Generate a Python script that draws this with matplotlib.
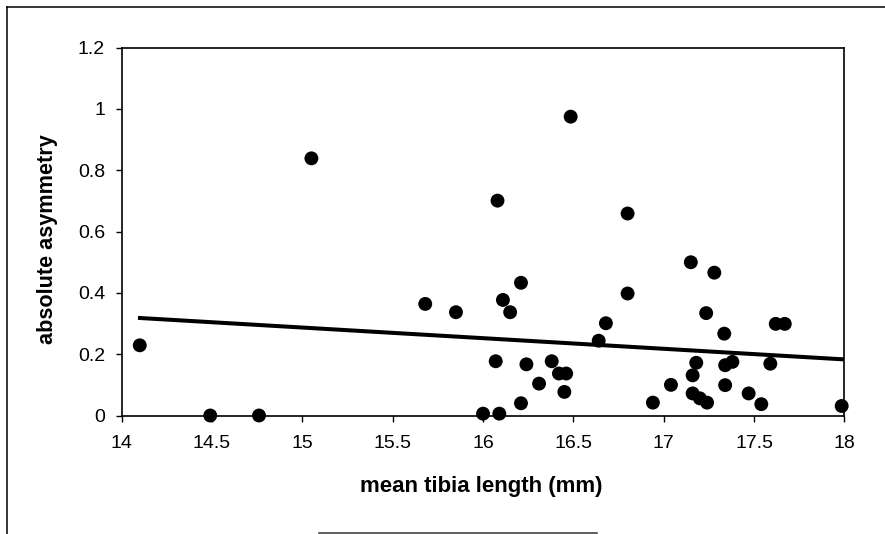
import matplotlib
matplotlib.use("Agg")
import matplotlib.pyplot as plt
from matplotlib.lines import Line2D

plt.rcParams['font.family'] = ['Liberation Sans', 'DejaVu Sans']

# mean tibia length (mm) and absolute asymmetry for each individual
tibia_length = [
    14.10, 14.49, 14.76, 15.05, 15.68, 15.85, 16.00, 16.08, 16.07, 16.09,
    16.11, 16.15, 16.21, 16.21, 16.24, 16.31, 16.38, 16.42, 16.46, 16.45,
    16.485, 16.64, 16.68, 16.80, 16.80, 16.94, 17.04, 17.15, 17.18, 17.16,
    17.16, 17.20, 17.24, 17.28, 17.235, 17.335, 17.34, 17.38, 17.34, 17.47,
    17.54, 17.59, 17.62, 17.67, 17.985,
]
asymmetry = [
    0.229, 0.000, 0.000, 0.839, 0.364, 0.337, 0.006, 0.701, 0.177, 0.006,
    0.377, 0.337, 0.433, 0.040, 0.167, 0.104, 0.177, 0.137, 0.137, 0.077,
    0.975, 0.244, 0.301, 0.659, 0.398, 0.042, 0.100, 0.500, 0.172, 0.131,
    0.072, 0.056, 0.042, 0.466, 0.334, 0.267, 0.164, 0.175, 0.099, 0.072,
    0.037, 0.169, 0.299, 0.299, 0.031,
]

# linear trend line end points
trend_x = [14.09, 18.0]
trend_y = [0.3185, 0.183]

x_ticks = [14, 14.5, 15, 15.5, 16, 16.5, 17, 17.5, 18]
x_tick_labels = ['14', '14.5', '15', '15.5', '16', '16.5', '17', '17.5', '18']
y_ticks = [0, 0.2, 0.4, 0.6, 0.8, 1.0, 1.2]
y_tick_labels = ['0', '0.2', '0.4', '0.6', '0.8', '1', '1.2']

W, H = 885, 534
fig = plt.figure(figsize=(W / 100, H / 100), dpi=100)
fig.patch.set_facecolor('white')

left, right, top, bottom = 121.7, 844.4, 47.7, 415.5
ax = fig.add_axes([left / W, 1 - bottom / H, (right - left) / W, (bottom - top) / H])

ax.plot(trend_x, trend_y, color='black', lw=2.9, solid_capstyle='butt', zorder=2)
ax.scatter(tibia_length, asymmetry, s=100, color='black', edgecolors='none',
           zorder=3, clip_on=False)

ax.set_xlim(14, 18)
ax.set_ylim(0, 1.2)
ax.set_xticks(x_ticks)
ax.set_xticklabels(x_tick_labels)
ax.set_yticks(y_ticks)
ax.set_yticklabels(y_tick_labels)
ax.tick_params(axis='both', direction='out', length=4, width=1.0,
               color='black', labelsize=14, labelcolor='black')
ax.tick_params(axis='x', pad=10)
ax.tick_params(axis='y', pad=8)
for sp in ax.spines.values():
    sp.set_linewidth(1.2)
    sp.set_color('black')

ax.set_xlabel('mean tibia length (mm)', fontsize=16, fontweight='bold')
ax.set_ylabel('absolute asymmetry', fontsize=15.6, fontweight='bold')
ax.xaxis.set_label_coords(0.497, -(476 - bottom) / (bottom - top))
ax.yaxis.set_label_coords((58 - left) / (right - left), 1 - (239 - top) / (bottom - top))

# outer chart frame
def fig_line(x0, y0, x1, y1, color='black', lw=1.1):
    fig.add_artist(Line2D([x0 / W, x1 / W], [1 - y0 / H, 1 - y1 / H],
                          color=color, lw=lw, transform=fig.transFigure))

fig_line(6.7, 6.7, W, 6.7)
fig_line(6.7, 6.7, 6.7, H)
fig_line(319, 532.7, 597, 532.7, color='#333333')

fig.savefig('out.png', dpi=100, facecolor='white')
